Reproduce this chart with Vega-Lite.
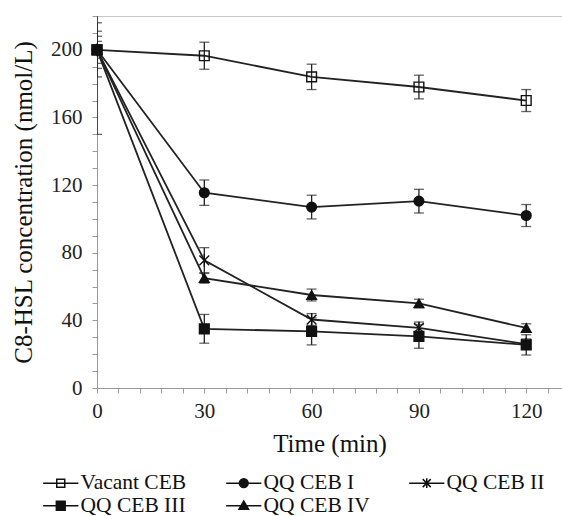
{
  "$schema": "https://vega.github.io/schema/vega-lite/v6.json",
  "width": 465,
  "height": 372,
  "autosize": {"type": "none"},
  "padding": {"left": 97, "top": 16, "right": 0, "bottom": 128},
  "background": "white",
  "config": {
    "view": {"stroke": "#c8c8c8", "strokeWidth": 1},
    "font": "Liberation Serif",
    "axis": {
      "labelFont": "Liberation Serif",
      "titleFont": "Liberation Serif",
      "labelFontSize": 21,
      "titleFontSize": 25,
      "titleFontWeight": "normal",
      "labelColor": "#222",
      "titleColor": "#111",
      "domainColor": "#999",
      "tickColor": "#999",
      "tickSize": 5,
      "grid": false,
      "labelOverlap": false,
      "labelFlush": false,
      "labelBound": false
    },
    "legend": {
      "labelFont": "Liberation Serif",
      "labelFontSize": 21.5,
      "labelColor": "#111"
    }
  },
  "data": {
    "values": [
      {"series": "Vacant CEB", "time": 0, "value": 200, "lo": 184, "hi": 216},
      {"series": "Vacant CEB", "time": 30, "value": 196.5, "lo": 188.5, "hi": 204.5},
      {"series": "Vacant CEB", "time": 60, "value": 184, "lo": 176.5, "hi": 191.5},
      {"series": "Vacant CEB", "time": 90, "value": 178, "lo": 171, "hi": 185},
      {"series": "Vacant CEB", "time": 120, "value": 170, "lo": 163.5, "hi": 176.5},
      {"series": "QQ CEB I", "time": 0, "value": 200, "lo": 192, "hi": 208},
      {"series": "QQ CEB I", "time": 30, "value": 115.5, "lo": 108, "hi": 123},
      {"series": "QQ CEB I", "time": 60, "value": 107, "lo": 100, "hi": 114},
      {"series": "QQ CEB I", "time": 90, "value": 110.5, "lo": 103.5, "hi": 117.5},
      {"series": "QQ CEB I", "time": 120, "value": 102, "lo": 95.5, "hi": 108.5},
      {"series": "QQ CEB II", "time": 0, "value": 200, "lo": 189, "hi": 211},
      {"series": "QQ CEB II", "time": 30, "value": 75.5, "lo": 68, "hi": 83},
      {"series": "QQ CEB II", "time": 60, "value": 40.5, "lo": 37, "hi": 44},
      {"series": "QQ CEB II", "time": 90, "value": 35.5, "lo": 32, "hi": 39},
      {"series": "QQ CEB II", "time": 120, "value": 26, "lo": 23, "hi": 29},
      {"series": "QQ CEB III", "time": 0, "value": 200, "lo": 150, "hi": 250},
      {"series": "QQ CEB III", "time": 30, "value": 35, "lo": 26.5, "hi": 43.5},
      {"series": "QQ CEB III", "time": 60, "value": 33.5, "lo": 25.5, "hi": 41.5},
      {"series": "QQ CEB III", "time": 90, "value": 30.5, "lo": 23.5, "hi": 37.5},
      {"series": "QQ CEB III", "time": 120, "value": 25.5, "lo": 19.5, "hi": 31.5},
      {"series": "QQ CEB IV", "time": 0, "value": 200, "lo": 195, "hi": 205},
      {"series": "QQ CEB IV", "time": 30, "value": 65, "lo": 62, "hi": 68},
      {"series": "QQ CEB IV", "time": 60, "value": 55, "lo": 51.5, "hi": 58.5},
      {"series": "QQ CEB IV", "time": 90, "value": 50, "lo": 47.5, "hi": 52.5},
      {"series": "QQ CEB IV", "time": 120, "value": 35.5, "lo": 33, "hi": 38}
    ]
  },
  "resolve": {"scale": {"shape": "independent", "fill": "independent"}},
  "encoding": {
    "x": {
      "field": "time", "type": "quantitative",
      "scale": {"domain": [0, 130], "nice": false, "zero": false},
      "axis": {
        "title": "Time (min)",
        "values": [0, 6, 12, 18, 24, 30, 36, 42, 48, 54, 60, 66, 72, 78, 84, 90, 96, 102, 108, 114, 120, 126],
        "labelExpr": "datum.value % 30 === 0 ? datum.label : ''",
        "labelOverlap": false,
        "labelPadding": 7,
        "titlePadding": 10
      }
    }
  },
  "layer": [
    {
      "mark": {"type": "line", "color": "#222", "strokeWidth": 1.8},
      "encoding": {
        "y": {
          "field": "value", "type": "quantitative",
          "scale": {"domain": [0, 220], "nice": false},
          "axis": {
            "title": "C8-HSL concentration (nmol/L)",
            "values": [0, 10, 20, 30, 40, 50, 60, 70, 80, 90, 100, 110, 120, 130, 140, 150, 160, 170, 180, 190, 200, 210, 220],
            "labelExpr": "datum.value % 40 === 0 ? datum.label : ''",
            "labelOverlap": false,
            "labelPadding": 10,
            "titlePadding": 14
          }
        },
        "detail": {"field": "series", "type": "nominal"}
      }
    },
    {
      "mark": {"type": "rule", "color": "#222", "strokeWidth": 1.3, "clip": true},
      "encoding": {
        "y": {"field": "lo", "type": "quantitative", "axis": {
            "title": "C8-HSL concentration (nmol/L)",
            "values": [0, 10, 20, 30, 40, 50, 60, 70, 80, 90, 100, 110, 120, 130, 140, 150, 160, 170, 180, 190, 200, 210, 220],
            "labelExpr": "datum.value % 40 === 0 ? datum.label : ''",
            "labelOverlap": false,
            "labelPadding": 10,
            "titlePadding": 14
          }},
        "y2": {"field": "hi"}
      }
    },
    {
      "mark": {"type": "tick", "orient": "horizontal", "color": "#222", "size": 10, "thickness": 1.3, "clip": true},
      "encoding": {
        "y": {"field": "lo", "type": "quantitative", "axis": {
            "title": "C8-HSL concentration (nmol/L)",
            "values": [0, 10, 20, 30, 40, 50, 60, 70, 80, 90, 100, 110, 120, 130, 140, 150, 160, 170, 180, 190, 200, 210, 220],
            "labelExpr": "datum.value % 40 === 0 ? datum.label : ''",
            "labelOverlap": false,
            "labelPadding": 10,
            "titlePadding": 14
          }}
      }
    },
    {
      "mark": {"type": "tick", "orient": "horizontal", "color": "#222", "size": 10, "thickness": 1.3, "clip": true},
      "encoding": {
        "y": {"field": "hi", "type": "quantitative", "axis": {
            "title": "C8-HSL concentration (nmol/L)",
            "values": [0, 10, 20, 30, 40, 50, 60, 70, 80, 90, 100, 110, 120, 130, 140, 150, 160, 170, 180, 190, 200, 210, 220],
            "labelExpr": "datum.value % 40 === 0 ? datum.label : ''",
            "labelOverlap": false,
            "labelPadding": 10,
            "titlePadding": 14
          }}
      }
    },
    {
      "mark": {"type": "point", "filled": true, "size": 95, "stroke": "#111", "strokeWidth": 1.4, "opacity": 1},
      "encoding": {
        "y": {"field": "value", "type": "quantitative", "axis": {
            "title": "C8-HSL concentration (nmol/L)",
            "values": [0, 10, 20, 30, 40, 50, 60, 70, 80, 90, 100, 110, 120, 130, 140, 150, 160, 170, 180, 190, 200, 210, 220],
            "labelExpr": "datum.value % 40 === 0 ? datum.label : ''",
            "labelOverlap": false,
            "labelPadding": 10,
            "titlePadding": 14
          }},
        "shape": {
          "field": "series", "type": "nominal", "legend": null,
          "scale": {
            "domain": ["Vacant CEB", "QQ CEB I", "QQ CEB II", "QQ CEB III", "QQ CEB IV"],
            "range": ["square", "circle", "M-1,-1L1,1M-1,1L1,-1M0,-1.3V1.3", "square", "triangle-up"]
          }
        },
        "fill": {
          "field": "series", "type": "nominal", "legend": null,
          "scale": {
            "domain": ["Vacant CEB", "QQ CEB I", "QQ CEB II", "QQ CEB III", "QQ CEB IV"],
            "range": ["transparent", "#111", "#111", "#111", "#111"]
          }
        }
      }
    },
    {
      "mark": {"type": "point", "filled": true, "size": 64, "stroke": "#111", "strokeWidth": 1.5, "opacity": 0},
      "encoding": {
        "y": {"field": "value", "type": "quantitative", "axis": {
            "title": "C8-HSL concentration (nmol/L)",
            "values": [0, 10, 20, 30, 40, 50, 60, 70, 80, 90, 100, 110, 120, 130, 140, 150, 160, 170, 180, 190, 200, 210, 220],
            "labelExpr": "datum.value % 40 === 0 ? datum.label : ''",
            "labelOverlap": false,
            "labelPadding": 10,
            "titlePadding": 14
          }},
        "shape": {
          "field": "series", "type": "nominal",
          "scale": {
            "domain": ["Vacant CEB", "QQ CEB I", "QQ CEB II", "QQ CEB III", "QQ CEB IV"],
            "range": [
              "M-4.4,0H4.4M-1,-1H1V1H-1Z",
              "M-4.4,0H4.4M-1.1,0A1.1,1.1 0 1,0 1.1,0A1.1,1.1 0 1,0 -1.1,0Z",
              "M-4.4,0H4.4M-1,-1L1,1M-1,1L1,-1M0,-1.2V1.2",
              "M-4.4,0H4.4M-1.1,-1.1H1.1V1.1H-1.1Z",
              "M-4.4,0H4.4M-1.2,0.9L0,-1.2L1.2,0.9Z"
            ]
          },
          "legend": {
            "title": null,
            "orient": "none",
            "legendX": -47,
            "legendY": 456,
            "direction": "horizontal",
            "columns": 3,
            "columnPadding": 36,
            "rowPadding": 0,
            "padding": 0,
            "gridAlign": "all",
            "symbolSize": 64,
            "symbolOpacity": 1,
            "labelOffset": 9,
            "encode": {"symbols": {"update": {"stroke": {"value": "#111"}, "strokeWidth": {"value": 1.5}, "opacity": {"value": 1}}}}
          }
        },
        "fill": {
          "field": "series", "type": "nominal",
          "scale": {
            "domain": ["Vacant CEB", "QQ CEB I", "QQ CEB II", "QQ CEB III", "QQ CEB IV"],
            "range": ["transparent", "#111", "#111", "#111", "#111"]
          },
          "legend": {
            "title": null,
            "orient": "none",
            "legendX": -47,
            "legendY": 456,
            "direction": "horizontal",
            "columns": 3,
            "columnPadding": 36,
            "rowPadding": 0,
            "padding": 0,
            "gridAlign": "all",
            "symbolSize": 64,
            "symbolOpacity": 1,
            "labelOffset": 9,
            "encode": {"symbols": {"update": {"stroke": {"value": "#111"}, "strokeWidth": {"value": 1.5}, "opacity": {"value": 1}}}}
          }
        }
      }
    }
  ]
}
